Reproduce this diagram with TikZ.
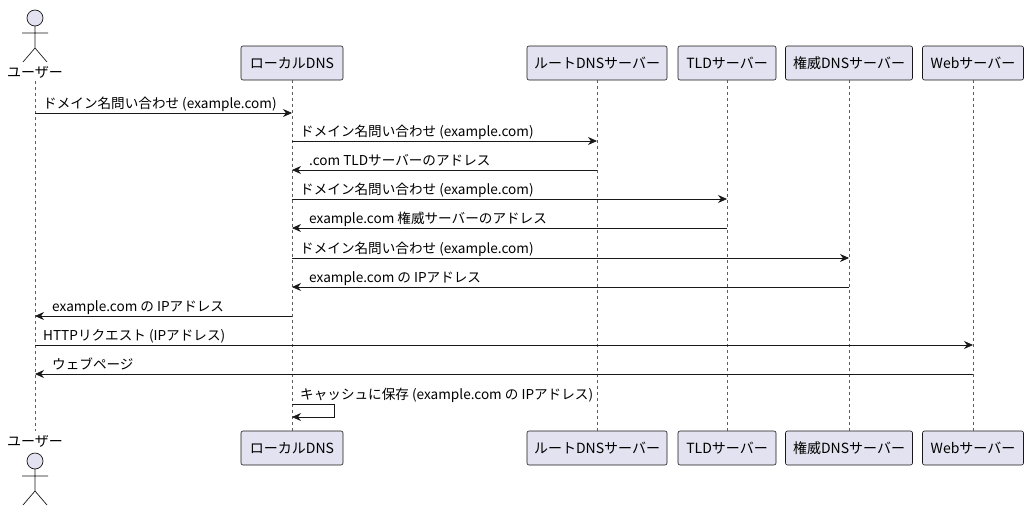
\documentclass[tikz,border=0pt]{standalone}
\usepackage{fontspec}
\setmainfont{Noto Sans CJK JP}
\usetikzlibrary{arrows.meta}
\definecolor{pfill}{HTML}{E2E2F0}
\definecolor{pline}{HTML}{181818}
\tikzset{
  part/.style={draw=pline,fill=pfill,rounded corners=2pt,minimum height=34pt,inner xsep=6pt,font=\fontsize{14}{16}\selectfont,line width=0.6pt},
  life/.style={draw=pline!70,dash pattern=on 3pt off 3pt,line width=0.5pt},
  msg/.style={draw=pline,line width=0.7pt,-{Stealth[length=9pt,width=8pt]}},
  lbl/.style={font=\fontsize{13.6}{16}\selectfont,anchor=base west,inner sep=0pt},
  actortxt/.style={font=\fontsize{14}{16}\selectfont,inner sep=0pt}
}
\begin{document}
\begin{tikzpicture}[x=1pt,y=-1pt]
\useasboundingbox (0,0) rectangle (1030,514);
% top boxes
\node[part,minimum width=102pt] (l1) at (292,63) {ローカルDNS};
\node[part,minimum width=140pt] (r1) at (597,63) {ルートDNSサーバー};
\node[part,minimum width=98pt] (t1) at (727,63) {TLDサーバー};
\node[part,minimum width=127pt] (a1) at (849,63) {権威DNSサーバー};
\node[part,minimum width=101pt] (w1) at (973,63) {Webサーバー};
\node[part,minimum width=102pt] (l2) at (292,448) {ローカルDNS};
\node[part,minimum width=140pt] (r2) at (597,448) {ルートDNSサーバー};
\node[part,minimum width=98pt] (t2) at (727,448) {TLDサーバー};
\node[part,minimum width=127pt] (a2) at (849,448) {権威DNSサーバー};
\node[part,minimum width=101pt] (w2) at (973,448) {Webサーバー};
% actors
\node[actortxt] (u1) at (35,72) {ユーザー};
\node[actortxt] (u2) at (35,441) {ユーザー};
\foreach \t in {0,443}{
  \begin{scope}[yshift=-\t pt]
  \draw[pline,fill=pfill,line width=0.7pt] (35,18) circle (8);
  \draw[pline,line width=0.7pt] (35,26) -- (35,48) (22,33) -- (48,33) (35,48) -- (23,62) (35,48) -- (47,62);
  \end{scope}}
% lifelines
\coordinate (uT) at (35,81); \coordinate (uB) at (35,431);
\draw[life] (uT) -- (uB);
\draw[life] (l1.south) -- (l2.north);
\draw[life] (r1.south) -- (r2.north);
\draw[life] (t1.south) -- (t2.north);
\draw[life] (a1.south) -- (a2.north);
\draw[life] (w1.south) -- (w2.north);
% messages
\newcommand\mr[4]{\draw[msg] (#1,#3) -- (#2,#3); \node[lbl] at (#1+8,#3-5) {#4};}
\newcommand\ml[4]{\draw[msg] (#1,#3) -- (#2,#3); \node[lbl] at (#2+17,#3-5) {#4};}
\mr{35}{292}{113}{ドメイン名問い合わせ (example.com)}
\mr{292}{597}{141}{ドメイン名問い合わせ (example.com)}
\ml{597}{292}{170}{.com TLDサーバーのアドレス}
\mr{292}{727}{199}{ドメイン名問い合わせ (example.com)}
\ml{727}{292}{228}{example.com 権威サーバーのアドレス}
\mr{292}{849}{258}{ドメイン名問い合わせ (example.com)}
\ml{849}{292}{287}{example.com の IPアドレス}
\ml{292}{35}{316}{example.com の IPアドレス}
\mr{35}{973}{345}{HTTPリクエスト (IPアドレス)}
\ml{973}{35}{374}{ウェブページ}
\draw[msg] (292,404) -- (334,404) -- (334,417) -- (292,417);
\node[lbl] at (300,399) {キャッシュに保存 (example.com の IPアドレス)};
\end{tikzpicture}
\end{document}
